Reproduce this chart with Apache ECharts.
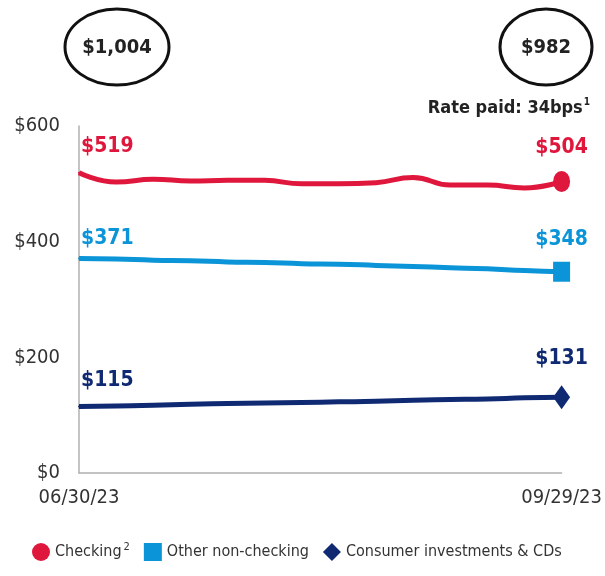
<!DOCTYPE html>
<html>
<head>
<meta charset="utf-8">
<script src="https://cdn.jsdelivr.net/npm/echarts@6/dist/echarts.min.js"></script>
<style>html,body{margin:0;padding:0;background:#fff}</style>
</head>
<body>
<div id="chart" style="width:605px;height:576px"></div>
<script>
    // weekly balances, $B
    var dates = ['06/30/23', '07/07/23', '07/14/23', '07/21/23', '07/28/23', '08/04/23', '08/11/23',
                 '08/18/23', '08/25/23', '09/01/23', '09/08/23', '09/15/23', '09/22/23', '09/29/23'];
    var checking = [519, 503, 508, 505, 506, 506, 500, 500, 502, 511, 498, 498, 493, 504];
    var otherNonChecking = [371, 370, 368, 367, 365, 364, 362, 361, 359, 357, 355, 353, 350, 348];
    var consumerInvestments = [115, 116, 117, 119, 120, 121, 122, 123, 124, 126, 127, 128, 130, 131];
    var totals = ['$1,004', '$982'];
    var ratePaid = '34bps';

    var FONT = "'Liberation Sans Narrow', 'DejaVu Sans Condensed', sans-serif";
    var RED = '#e0173c', BLUE = '#0b95d8', NAVY = '#0f2a72';

    // only first & last points get a value label, last one gets the marker
    function buildData(values, color, symbol, size, firstDist, lastDist) {
        var last = values.length - 1;
        return values.map(function (v, i) {
            var item = { value: v };
            var lbl = {
                show: true,
                position: 'top',
                formatter: '${c}',
                color: color,
                fontFamily: FONT,
                fontWeight: 'bold',
                fontSize: 21
            };
            if (i === 0) {
                lbl.align = 'left';
                lbl.offset = [2, 0];
                lbl.distance = firstDist;
                item.label = lbl;
            } else if (i === last) {
                lbl.distance = lastDist;
                item.label = lbl;
                item.symbol = symbol;
                item.symbolSize = size;
            }
            return item;
        });
    }

    var dom = document.getElementById('chart');
    var myChart = echarts.init(dom);

    var option = {
        animation: false,
        grid: { left: 79, right: 43, top: 126, bottom: 103 },
        xAxis: {
            type: 'category',
            boundaryGap: false,
            data: dates,
            axisLine: { lineStyle: { color: '#b0b0b0', width: 1.5 } },
            axisTick: { show: false },
            axisLabel: {
                interval: function (index) { return index === 0 || index === dates.length - 1; },
                fontFamily: FONT,
                fontSize: 20,
                color: '#333',
                margin: 15
            }
        },
        yAxis: {
            type: 'value',
            min: 0,
            max: 600,
            interval: 200,
            splitLine: { show: false },
            axisLine: { show: true, lineStyle: { color: '#b0b0b0', width: 1.5 } },
            axisTick: { show: false },
            axisLabel: {
                formatter: '${value}',
                fontFamily: FONT,
                fontSize: 20,
                color: '#333',
                margin: 19
            }
        },
        legend: {
            bottom: 10,
            left: 27,
            width: 580,
            itemWidth: 18,
            itemHeight: 18,
            itemGap: 14,
            textStyle: {
                fontFamily: FONT,
                fontSize: 16,
                color: '#333',
                rich: {
                    s: { fontFamily: FONT, fontSize: 11, color: '#333', verticalAlign: 'top', padding: [0, 0, 9, 2] }
                }
            },
            formatter: function (name) {
                return name === 'Checking' ? 'Checking{s|2}' : name;
            },
            data: [
                { name: 'Checking', icon: 'circle' },
                { name: 'Other non-checking', icon: 'rect' },
                { name: 'Consumer investments & CDs', icon: 'diamond' }
            ]
        },
        graphic: [
            { type: 'ellipse', shape: { cx: 117, cy: 47, rx: 52, ry: 38 },
              style: { fill: 'none', stroke: '#111', lineWidth: 3 } },
            { type: 'text', x: 117, y: 48,
              style: { text: totals[0], fontFamily: FONT, fontWeight: 'bold', fontSize: 20,
                       fill: '#222', align: 'center', verticalAlign: 'middle' } },
            { type: 'ellipse', shape: { cx: 546, cy: 47, rx: 46, ry: 38 },
              style: { fill: 'none', stroke: '#111', lineWidth: 3 } },
            { type: 'text', x: 546, y: 48,
              style: { text: totals[1], fontFamily: FONT, fontWeight: 'bold', fontSize: 20,
                       fill: '#222', align: 'center', verticalAlign: 'middle' } },
            { type: 'text', x: 590, y: 108,
              style: {
                  text: '{b|Rate paid: ' + ratePaid + '}{s|1}',
                  align: 'right', verticalAlign: 'middle',
                  rich: {
                      b: { fontFamily: FONT, fontWeight: 'bold', fontSize: 18, fill: '#222' },
                      s: { fontFamily: FONT, fontWeight: 'bold', fontSize: 10, fill: '#222', padding: [0, 0, 11, 1] }
                  }
              } }
        ],
        series: [
            {
                name: 'Checking',
                type: 'line',
                smooth: true,
                symbol: 'circle',
                symbolSize: 2,
                itemStyle: { color: RED },
                lineStyle: { color: RED, width: 5 },
                data: buildData(checking, RED, 'circle', [17, 21], 15, 13)
            },
            {
                name: 'Other non-checking',
                type: 'line',
                smooth: true,
                symbol: 'circle',
                symbolSize: 2,
                itemStyle: { color: BLUE },
                lineStyle: { color: BLUE, width: 5 },
                data: buildData(otherNonChecking, BLUE, 'rect', [17, 20], 8, 12)
            },
            {
                name: 'Consumer investments & CDs',
                type: 'line',
                smooth: true,
                symbol: 'circle',
                symbolSize: 2,
                itemStyle: { color: NAVY },
                lineStyle: { color: NAVY, width: 5 },
                data: buildData(consumerInvestments, NAVY, 'diamond', [17, 24], 14, 16)
            }
        ]
    };

    myChart.setOption(option, true);
</script>
</body>
</html>
